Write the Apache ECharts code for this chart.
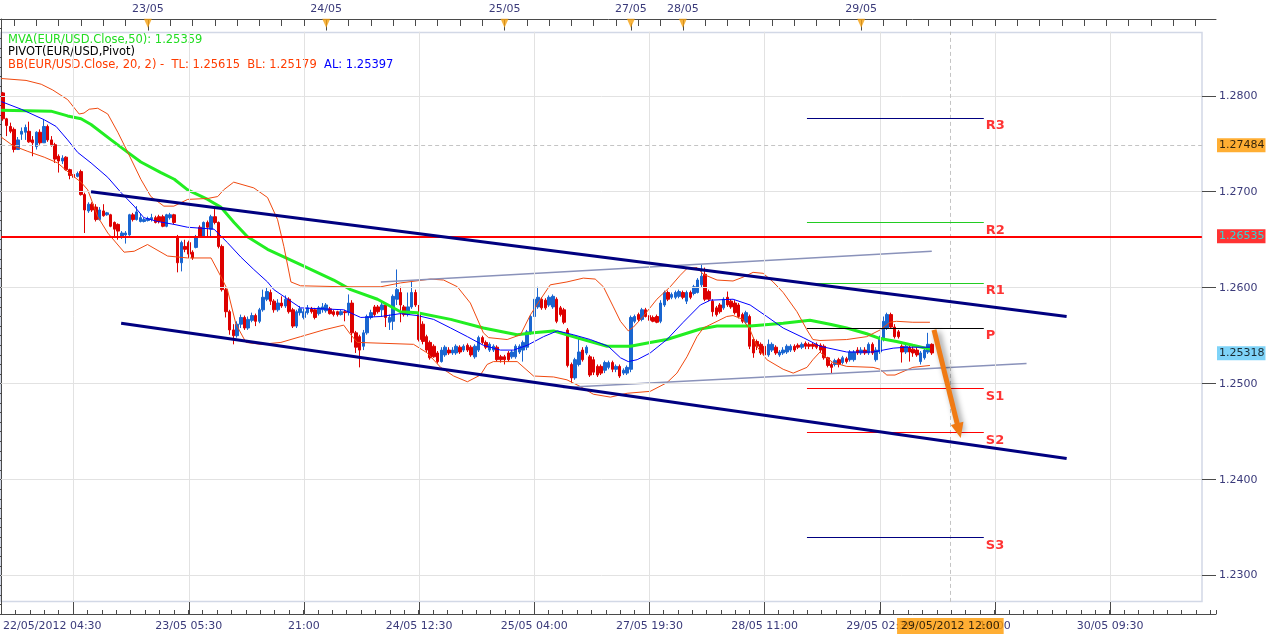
<!DOCTYPE html>
<html><head><meta charset="utf-8">
<script src="https://cdn.jsdelivr.net/npm/echarts@6/dist/echarts.min.js"></script>
<style>html,body{margin:0;padding:0;background:#fff}#c{width:1274px;height:639px}</style>
</head><body><div id="c"></div>
<script>
// ---------------- DATA ----------------
const N_SLOTS = 327; // 30-minute slots on the category axis (incl. empty future area)
const categories = Array.from({length: N_SLOTS}, (_, i) => String(i));

const openP = [1.2803,1.2776,1.2768,1.2765,1.2744,1.2760,1.2762,1.2763,1.2754,1.2747,1.2762,1.2751,1.2768,1.2754,1.2749,1.2737,1.2732,1.2736,1.2723,1.2718,
1.2716,1.2721,1.2697,1.2680,1.2687,1.2684,1.2671,1.2680,1.2676,1.2676,1.2668,1.2666,1.2653,1.2655,1.2655,1.2676,1.2671,1.2669,1.2669,1.2670,
1.2671,1.2673,1.2674,1.2674,1.2664,1.2673,1.2676,1.2653,1.2626,1.2643,1.2647,1.2637,1.2642,1.2663,1.2653,1.2668,1.2661,1.2674,1.2668,1.2643,
1.2598,1.2575,1.2556,1.2550,1.2562,1.2569,1.2558,1.2566,1.2571,1.2565,1.2577,1.2588,1.2595,1.2586,1.2577,1.2584,1.2581,1.2588,1.2577,1.2560,
1.2574,1.2569,1.2574,1.2578,1.2577,1.2573,1.2577,1.2576,1.2578,1.2575,1.2575,1.2572,1.2575,1.2574,1.2584,1.2553,1.2549,1.2539,1.2553,1.2569,
1.2580,1.2580,1.2577,1.2582,1.2564,1.2565,1.2588,1.2595,1.2580,1.2572,1.2580,1.2595,1.2572,1.2562,1.2549,1.2543,1.2539,1.2532,1.2523,1.2530,
1.2535,1.2532,1.2532,1.2538,1.2535,1.2540,1.2538,1.2528,1.2535,1.2548,1.2543,1.2535,1.2535,1.2538,1.2528,1.2528,1.2532,1.2528,1.2528,1.2533,
1.2535,1.2538,1.2553,1.2570,1.2580,1.2588,1.2587,1.2582,1.2580,1.2588,1.2579,1.2577,1.2556,1.2520,1.2506,1.2520,1.2535,1.2532,1.2528,1.2525,
1.2518,1.2518,1.2514,1.2517,1.2522,1.2515,1.2518,1.2511,1.2511,1.2515,1.2565,1.2572,1.2567,1.2577,1.2571,1.2569,1.2570,1.2565,1.2582,1.2595,
1.2590,1.2590,1.2591,1.2595,1.2586,1.2595,1.2594,1.2595,1.2603,1.2614,1.2596,1.2586,1.2579,1.2582,1.2579,1.2590,1.2586,1.2584,1.2582,1.2572,
1.2564,1.2570,1.2546,1.2544,1.2541,1.2539,1.2530,1.2535,1.2538,1.2530,1.2532,1.2533,1.2535,1.2539,1.2540,1.2538,1.2542,1.2541,1.2541,1.2541,
1.2540,1.2539,1.2527,1.2520,1.2520,1.2525,1.2522,1.2526,1.2525,1.2525,1.2535,1.2532,1.2535,1.2532,1.2541,1.2525,1.2533,1.2546,1.2558,1.2572,
1.2559,1.2554,1.2539,1.2533,1.2538,1.2536,1.2535,1.2523,1.2527,1.2533,1.2541];
const closeP = [1.2776,1.2769,1.2763,1.2744,1.2754,1.2763,1.2767,1.2752,1.2751,1.2762,1.2751,1.2768,1.2754,1.2749,1.2734,1.2732,1.2735,1.2723,1.2717,1.2715,
1.2719,1.2697,1.2681,1.2687,1.2681,1.2671,1.2681,1.2675,1.2678,1.2664,1.2661,1.2659,1.2657,1.2657,1.2676,1.2671,1.2679,1.2673,1.2671,1.2672,
1.2673,1.2668,1.2669,1.2664,1.2676,1.2676,1.2668,1.2626,1.2647,1.2640,1.2635,1.2631,1.2653,1.2653,1.2668,1.2663,1.2674,1.2668,1.2643,1.2598,
1.2575,1.2556,1.2550,1.2562,1.2569,1.2558,1.2567,1.2571,1.2565,1.2577,1.2590,1.2596,1.2586,1.2577,1.2584,1.2581,1.2588,1.2575,1.2560,1.2575,
1.2578,1.2575,1.2579,1.2575,1.2569,1.2579,1.2580,1.2582,1.2573,1.2572,1.2572,1.2575,1.2574,1.2584,1.2553,1.2538,1.2535,1.2553,1.2570,1.2574,
1.2572,1.2575,1.2582,1.2569,1.2569,1.2591,1.2598,1.2582,1.2572,1.2580,1.2595,1.2582,1.2546,1.2544,1.2535,1.2527,1.2528,1.2523,1.2535,1.2538,
1.2532,1.2535,1.2539,1.2533,1.2539,1.2535,1.2530,1.2539,1.2548,1.2543,1.2538,1.2541,1.2539,1.2525,1.2525,1.2525,1.2525,1.2533,1.2539,1.2539,
1.2543,1.2554,1.2570,1.2588,1.2590,1.2579,1.2579,1.2590,1.2591,1.2565,1.2572,1.2564,1.2519,1.2506,1.2525,1.2533,1.2525,1.2538,1.2509,1.2512,
1.2509,1.2511,1.2522,1.2522,1.2515,1.2518,1.2508,1.2514,1.2517,1.2569,1.2570,1.2567,1.2577,1.2570,1.2566,1.2565,1.2564,1.2584,1.2595,1.2588,
1.2593,1.2595,1.2596,1.2590,1.2595,1.2590,1.2601,1.2608,1.2612,1.2588,1.2588,1.2575,1.2572,1.2575,1.2588,1.2582,1.2580,1.2574,1.2570,1.2565,
1.2574,1.2539,1.2532,1.2539,1.2532,1.2530,1.2541,1.2541,1.2532,1.2533,1.2535,1.2539,1.2539,1.2535,1.2538,1.2541,1.2539,1.2539,1.2539,1.2538,
1.2535,1.2527,1.2519,1.2517,1.2524,1.2520,1.2527,1.2523,1.2533,1.2533,1.2532,1.2535,1.2532,1.2541,1.2532,1.2535,1.2548,1.2565,1.2572,1.2559,
1.2549,1.2549,1.2533,1.2539,1.2533,1.2532,1.2530,1.2532,1.2535,1.2541,1.2532];
const lowP = [1.2774,1.2758,1.2761,1.2741,1.2744,1.2754,1.2754,1.2751,1.2737,1.2744,1.2749,1.2751,1.2752,1.2747,1.2730,1.2720,1.2729,1.2722,1.2713,1.2713,
1.2715,1.2696,1.2657,1.2678,1.2679,1.2669,1.2670,1.2674,1.2675,1.2663,1.2652,1.2650,1.2651,1.2646,1.2654,1.2669,1.2670,1.2668,1.2668,1.2669,
1.2669,1.2667,1.2667,1.2663,1.2663,1.2671,1.2666,1.2616,1.2617,1.2637,1.2631,1.2629,1.2641,1.2652,1.2652,1.2652,1.2652,1.2666,1.2641,1.2596,
1.2569,1.2551,1.2541,1.2548,1.2558,1.2556,1.2556,1.2564,1.2560,1.2563,1.2575,1.2586,1.2582,1.2574,1.2575,1.2579,1.2579,1.2573,1.2558,1.2558,
1.2571,1.2567,1.2572,1.2573,1.2567,1.2571,1.2574,1.2574,1.2572,1.2570,1.2570,1.2571,1.2565,1.2571,1.2543,1.2532,1.2517,1.2535,1.2551,1.2567,
1.2570,1.2573,1.2570,1.2559,1.2556,1.2556,1.2582,1.2564,1.2570,1.2570,1.2578,1.2580,1.2544,1.2541,1.2533,1.2525,1.2527,1.2521,1.2522,1.2528,
1.2530,1.2530,1.2530,1.2531,1.2533,1.2533,1.2528,1.2526,1.2533,1.2541,1.2536,1.2533,1.2533,1.2523,1.2522,1.2520,1.2523,1.2526,1.2526,1.2531,
1.2523,1.2535,1.2551,1.2568,1.2578,1.2577,1.2577,1.2580,1.2578,1.2563,1.2570,1.2562,1.2517,1.2501,1.2504,1.2518,1.2523,1.2530,1.2507,1.2509,
1.2507,1.2509,1.2511,1.2515,1.2512,1.2512,1.2506,1.2509,1.2509,1.2512,1.2563,1.2565,1.2565,1.2569,1.2564,1.2564,1.2563,1.2563,1.2580,1.2586,
1.2588,1.2588,1.2589,1.2588,1.2583,1.2588,1.2592,1.2594,1.2600,1.2586,1.2586,1.2570,1.2570,1.2573,1.2577,1.2580,1.2578,1.2572,1.2568,1.2563,
1.2562,1.2536,1.2527,1.2535,1.2530,1.2528,1.2528,1.2533,1.2530,1.2528,1.2530,1.2531,1.2533,1.2533,1.2536,1.2536,1.2536,1.2536,1.2536,1.2536,
1.2533,1.2525,1.2517,1.2511,1.2518,1.2517,1.2520,1.2521,1.2523,1.2523,1.2530,1.2530,1.2530,1.2530,1.2530,1.2523,1.2531,1.2544,1.2556,1.2557,
1.2547,1.2547,1.2522,1.2531,1.2523,1.2528,1.2528,1.2520,1.2525,1.2531,1.2530];
const highP = [1.2804,1.2777,1.2772,1.2767,1.2757,1.2767,1.2770,1.2773,1.2758,1.2763,1.2765,1.2775,1.2770,1.2758,1.2751,1.2739,1.2738,1.2737,1.2724,1.2720,
1.2721,1.2723,1.2699,1.2689,1.2689,1.2687,1.2684,1.2687,1.2679,1.2677,1.2669,1.2667,1.2659,1.2659,1.2677,1.2678,1.2685,1.2677,1.2673,1.2674,
1.2677,1.2675,1.2676,1.2676,1.2677,1.2678,1.2677,1.2655,1.2649,1.2650,1.2649,1.2639,1.2655,1.2665,1.2669,1.2670,1.2676,1.2684,1.2669,1.2645,
1.2600,1.2577,1.2562,1.2565,1.2572,1.2571,1.2570,1.2574,1.2573,1.2579,1.2598,1.2600,1.2598,1.2588,1.2588,1.2591,1.2592,1.2590,1.2579,1.2577,
1.2581,1.2578,1.2582,1.2580,1.2579,1.2581,1.2584,1.2584,1.2580,1.2577,1.2576,1.2577,1.2577,1.2593,1.2587,1.2555,1.2551,1.2556,1.2572,1.2577,
1.2582,1.2582,1.2586,1.2584,1.2572,1.2593,1.2619,1.2601,1.2582,1.2595,1.2606,1.2598,1.2582,1.2565,1.2551,1.2545,1.2541,1.2534,1.2538,1.2540,
1.2538,1.2538,1.2541,1.2540,1.2541,1.2542,1.2540,1.2541,1.2550,1.2550,1.2545,1.2543,1.2541,1.2540,1.2530,1.2530,1.2534,1.2535,1.2541,1.2541,
1.2545,1.2556,1.2572,1.2590,1.2601,1.2590,1.2589,1.2592,1.2593,1.2590,1.2581,1.2579,1.2558,1.2522,1.2527,1.2548,1.2538,1.2540,1.2530,1.2528,
1.2520,1.2520,1.2524,1.2524,1.2524,1.2520,1.2520,1.2516,1.2519,1.2571,1.2572,1.2574,1.2579,1.2579,1.2573,1.2571,1.2572,1.2587,1.2597,1.2597,
1.2595,1.2597,1.2598,1.2597,1.2597,1.2597,1.2603,1.2610,1.2624,1.2621,1.2598,1.2588,1.2581,1.2584,1.2590,1.2596,1.2588,1.2587,1.2584,1.2574,
1.2576,1.2572,1.2548,1.2546,1.2543,1.2541,1.2546,1.2543,1.2540,1.2535,1.2538,1.2541,1.2541,1.2541,1.2542,1.2543,1.2544,1.2543,1.2543,1.2543,
1.2542,1.2541,1.2528,1.2522,1.2526,1.2527,1.2529,1.2528,1.2535,1.2535,1.2538,1.2538,1.2538,1.2543,1.2543,1.2538,1.2550,1.2570,1.2574,1.2574,
1.2562,1.2556,1.2541,1.2541,1.2540,1.2539,1.2538,1.2534,1.2538,1.2553,1.2542];

// Indicator lines: positions along the bar axis (bar units) and values
const ma50X = [0,13.4,17.9,21.5,24.2,29.6,34.1,37.6,43.0,46.6,50.2,55.6,59.1,62.7,66.3,71.7,80.6,89.5,94.1,101.3,107.5,112.0,121.0,129.8,138.9,143.3,148.7,152.3,156.7,163.1,169.4,174.7,179.2,188.2,192.7,201.6,210.5,217.7,223.1,227.6,233.0,236.6,241.0,245.4,250.0];
const ma50Y = [1.2785,1.2784,1.2779,1.2776,1.2770,1.2754,1.2741,1.2731,1.2720,1.2713,1.2702,1.2692,1.2684,1.2668,1.2653,1.2640,1.2624,1.2608,1.2598,1.2588,1.2575,1.2574,1.2567,1.2558,1.2551,1.2553,1.2555,1.2551,1.2546,1.2539,1.2539,1.2543,1.2546,1.2557,1.2560,1.2560,1.2563,1.2566,1.2562,1.2558,1.2552,1.2547,1.2544,1.2540,1.2536];

const bbMidX = [0,5.4,11.6,14.8,17.9,20.6,24.2,28.7,32.3,35.8,38.4,42.1,46.5,50.2,53.8,57.3,60.9,64.5,68.0,71.7,73.4,80.6,92.2,96.8,102.2,107.5,112.0,116.4,121.0,125.5,129.8,134.4,137.9,141.6,146.0,149.7,154.0,158.6,163.4,166.7,168.8,171.2,174.7,179.2,183.6,188.2,190.9,197.0,201.6,206.1,210.5,215.9,220.4,227.6,234.7,240.1,243.7,250.0];
const bbMidY = [1.2794,1.2786,1.2775,1.2768,1.2754,1.2741,1.2730,1.2715,1.2699,1.2685,1.2673,1.2669,1.2666,1.2663,1.2662,1.2661,1.2647,1.2632,1.2619,1.2606,1.2598,1.2579,1.2577,1.2569,1.2570,1.2573,1.2571,1.2567,1.2558,1.2549,1.2540,1.2535,1.2535,1.2540,1.2549,1.2555,1.2551,1.2546,1.2539,1.2527,1.2523,1.2525,1.2532,1.2546,1.2564,1.2582,1.2587,1.2588,1.2582,1.2570,1.2558,1.2548,1.2539,1.2533,1.2533,1.2537,1.2538,1.2538];

const bbUpX = [0,6.7,10.8,13.9,17.9,21.0,22.3,23.7,26.0,28.7,31.4,34.1,37.6,40.3,43.8,46.5,50.2,55.6,58.3,59.9,62.6,68.0,71.7,74.4,76.1,78.0,80.6,92.2,102.2,107.5,115.6,119.1,122.8,126.3,129.8,131.2,136.2,139.8,142.5,145.2,147.8,152.3,156.7,159.9,162.1,164.8,166.7,168.8,170.2,172.8,176.5,180.1,182.8,184.6,187.3,189.0,192.7,197.0,199.7,202.4,205.1,207.8,210.5,214.2,216.9,218.5,220.4,227.6,233.0,236.6,239.2,241.0,245.4,250.0];
const bbUpY = [1.2818,1.2816,1.2812,1.2806,1.2796,1.2781,1.2782,1.2786,1.2787,1.2781,1.2762,1.2741,1.2713,1.2695,1.2685,1.2685,1.2692,1.2693,1.2695,1.2702,1.2710,1.2704,1.2694,1.2671,1.2643,1.2606,1.2602,1.2601,1.2601,1.2605,1.2609,1.2608,1.2601,1.2584,1.2553,1.2548,1.2546,1.2551,1.2572,1.2588,1.2603,1.2606,1.2610,1.2609,1.2601,1.2580,1.2565,1.2555,1.2559,1.2570,1.2588,1.2601,1.2613,1.2620,1.2621,1.2614,1.2608,1.2607,1.2611,1.2616,1.2615,1.2606,1.2595,1.2575,1.2556,1.2546,1.2545,1.2546,1.2549,1.2556,1.2564,1.2565,1.2564,1.2564];

const bbLoX = [0,3.2,7.2,11.6,15.2,18.8,21.5,23.3,26.0,28.7,33.1,35.8,39.4,44.8,50.2,56.5,59.1,60.9,63.2,65.9,69.9,75.3,80.6,86.8,92.2,94.1,95.9,111.0,114.7,118.3,121.8,125.5,129.0,130.8,132.5,138.9,143.3,148.7,152.3,155.9,159.4,164.0,168.5,174.7,179.2,181.9,184.6,187.3,189.0,192.7,195.3,197.0,199.7,201.6,203.4,206.1,210.5,213.2,216.9,218.5,220.4,222.2,223.9,227.6,234.7,236.6,238.4,240.6,245.4,250.0];
const bbLoY = [1.2757,1.2748,1.2742,1.2736,1.2730,1.2718,1.2710,1.2702,1.2674,1.2657,1.2637,1.2638,1.2645,1.2633,1.2631,1.2631,1.2612,1.2598,1.2562,1.2543,1.2541,1.2543,1.2549,1.2556,1.2561,1.2551,1.2543,1.2541,1.2532,1.2517,1.2508,1.2502,1.2509,1.2520,1.2523,1.2523,1.2508,1.2507,1.2504,1.2497,1.2489,1.2486,1.2490,1.2492,1.2501,1.2511,1.2528,1.2549,1.2558,1.2565,1.2570,1.2571,1.2567,1.2556,1.2539,1.2525,1.2515,1.2511,1.2517,1.2525,1.2533,1.2527,1.2522,1.2518,1.2517,1.2515,1.2509,1.2509,1.2517,1.2519];

// Drawn trend lines (bar position, price)
const chanUpX = [24.2, 286.8],  chanUpY = [1.2700, 1.2570];
const chanLoX = [32.3, 286.8],  chanLoY = [1.2563, 1.2422];
const greyUpX = [102.2, 250.5], greyUpY = [1.2606, 1.2638];
const greyLoX = [151.2, 276.0], greyLoY = [1.2496, 1.2521];
const arrowX  = [251.1, 257.8], arrowY  = [1.2556, 1.2451];
const resistanceLevel = 1.26535;

// Pivot levels
const pivotNames = ['R3','R2','R1','P','S1','S2','S3'];
const pivotVals  = [1.2777,1.2668,1.2605,1.2558,1.2495,1.2449,1.2340];
const pivotColors= ['#000080','#22cc22','#22cc22','#000000','#ff0000','#ff0000','#000080'];
const pivotFrom = 216.9, pivotTo = 264.5;

// Axis ticks / labels
const yTickLabels = [1.23,1.24,1.25,1.26,1.27,1.28];
const bottomMajorIdx = [19,50,81,112,143,174,205,236,267,298];
const bottomLabelIdx = [0,50,81,112,143,174,205,236,267,298];
const bottomLabelText = ['22/05/2012 04:30','23/05 05:30','21:00','24/05 12:30','25/05 04:00','27/05 19:30','28/05 11:00','29/05 02:30','18:00','30/05 09:30'];
const topLabelIdx = [39,87,135,169,183,231];
const topLabelText = ['23/05','24/05','25/05','27/05','28/05','29/05'];

// Crosshair / price tags
const crossIdx = 255, crossPrice = 1.27484, crossTimeText = '29/05/2012 12:00';
const lastPrice = 1.25318;

// --------------- LAYOUT CONSTANTS ---------------
const FONT = '"DejaVu Sans", Verdana, sans-serif';
const AXC = '#4a4a4a', LBL = '#3a3a7a';
const tFrame = 323.2, yFrameTop = 1.28667, yFrameBot = 1.22726, yTri = 1.28755, yDayTickEnd = 1.28680;

const pairs = (xs, ys) => xs.map((x, k) => [x, ys[k]]);
const seg = (x1, y1, x2, y2, ls) => [{coord: [x1, y1], lineStyle: ls}, {coord: [x2, y2]}];

const gridMarks = [];
yTickLabels.forEach(v => {
  gridMarks.push(seg(0, v, tFrame, v, {color: '#e2e2e2', width: 1, type: 'solid'}));
  gridMarks.push(seg(tFrame, v, N_SLOTS, v, {color: AXC, width: 1, type: 'solid'}));
});
bottomMajorIdx.forEach(i => gridMarks.push(seg(i + 0.5, yFrameBot, i + 0.5, yFrameTop, {color: '#e2e2e2', width: 1, type: 'solid'})));
gridMarks.push(seg(crossIdx + 0.5, yFrameBot, crossIdx + 0.5, yFrameTop, {color: '#c4c4c4', width: 1, type: [4, 3]}));
gridMarks.push(seg(0, crossPrice, tFrame, crossPrice, {color: '#c4c4c4', width: 1, type: [4, 3]}));

const option = {
  animation: false,
  backgroundColor: '#ffffff',
  grid: {left: 0, right: 58, top: 19, bottom: 25, show: false},
  xAxis: [
    {type: 'category', data: categories, position: 'bottom', boundaryGap: true,
     axisLine: {show: true, lineStyle: {color: AXC}},
     axisTick: {show: true, inside: true, length: 12, alignWithLabel: true,
                interval: i => bottomMajorIdx.includes(i), lineStyle: {color: AXC}},
     axisLabel: {show: true, interval: i => bottomLabelIdx.includes(i),
                 formatter: (v, i) => bottomLabelText[bottomLabelIdx.indexOf(i)] || '',
                 color: LBL, fontFamily: FONT, fontSize: 11, margin: 7, alignMinLabel: 'left'},
     splitLine: {show: false}},
    {type: 'value', min: 0, max: N_SLOTS, interval: 3.875, position: 'bottom',
     axisLine: {show: false}, axisTick: {show: true, inside: true, length: 4, lineStyle: {color: AXC}},
     axisLabel: {show: false}, splitLine: {show: false}},
    {type: 'category', data: categories, position: 'top', boundaryGap: true,
     axisLine: {show: true, lineStyle: {color: AXC}},
     axisTick: {show: true, inside: true, length: 7, alignWithLabel: true,
                interval: i => (i - 3) % 6 === 0, lineStyle: {color: AXC}},
     axisLabel: {show: true, interval: i => topLabelIdx.includes(i),
                 formatter: (v, i) => topLabelText[topLabelIdx.indexOf(i)] || '',
                 color: LBL, fontFamily: FONT, fontSize: 11, margin: 4},
     splitLine: {show: false}}
  ],
  yAxis: [{type: 'value', position: 'right', min: 1.226, max: 1.288, interval: 0.001, scale: true,
    axisLine: {show: true, lineStyle: {color: AXC}},
    axisTick: {show: true, inside: true, length: 4, lineStyle: {color: AXC}},
    axisLabel: {formatter: v => (Math.abs(v * 100 - Math.round(v * 100)) < 1e-6) ? v.toFixed(4) : '',
                color: LBL, fontFamily: FONT, fontSize: 11, margin: 3},
    splitLine: {show: false}}],
  graphic: [
    {type: 'rect', silent: true, z: -10, shape: {x: 0.5, y: 32.5, width: 1201.5, height: 569},
     style: {fill: 'none', stroke: '#d2d8e6', lineWidth: 1.5}},
    {type: 'text', x: 8, y: 40, silent: true, style: {text: 'MVA(EUR/USD.Close,50): 1.25359', fill: '#22dd22', font: '11.5px ' + FONT, verticalAlign: 'middle'}},
    {type: 'text', x: 8, y: 52.5, silent: true, style: {text: 'PIVOT(EUR/USD,Pivot)', fill: '#000000', font: '11.5px ' + FONT, verticalAlign: 'middle'}},
    {type: 'text', x: 8, y: 65, silent: true, style: {text: '{a|BB(EUR/USD.Close, 20, 2) -  TL: 1.25615  BL: 1.25179  }{b|AL: 1.25397}',
      font: '11.5px ' + FONT, verticalAlign: 'middle',
      rich: {a: {fill: '#ff3c00', color: '#ff3c00', font: '11.5px ' + FONT}, b: {fill: '#0000ff', color: '#0000ff', font: '11.5px ' + FONT}}}}
  ],
  series: [
    {type: 'line', name: 'grid', xAxisIndex: 1, yAxisIndex: 0, data: [], z: 1, silent: true,
     markLine: {silent: true, symbol: 'none', label: {show: false}, animation: false, data: gridMarks}},
    {type: 'candlestick', name: 'EUR/USD', xAxisIndex: 0, yAxisIndex: 0, z: 3, barWidth: 3,
     data: openP.map((o, i) => [o, closeP[i], lowP[i], highP[i]]),
     itemStyle: {color: '#1a66d0', color0: '#dd0000', borderColor: '#1a66d0', borderColor0: '#dd0000', borderWidth: 1}},
    {type: 'line', name: 'MVA', xAxisIndex: 1, data: pairs(ma50X, ma50Y), showSymbol: false, symbol: 'none', z: 4,
     lineStyle: {color: '#22ee22', width: 3}},
    {type: 'line', name: 'BB TL', xAxisIndex: 1, data: pairs(bbUpX, bbUpY), showSymbol: false, symbol: 'none', z: 4,
     lineStyle: {color: '#f04a10', width: 1}},
    {type: 'line', name: 'BB BL', xAxisIndex: 1, data: pairs(bbLoX, bbLoY), showSymbol: false, symbol: 'none', z: 4,
     lineStyle: {color: '#f04a10', width: 1}},
    {type: 'line', name: 'BB AL', xAxisIndex: 1, data: pairs(bbMidX, bbMidY), showSymbol: false, symbol: 'none', z: 4,
     lineStyle: {color: '#0000ff', width: 1}},
    {type: 'line', name: 'grey up', xAxisIndex: 1, data: pairs(greyUpX, greyUpY), showSymbol: false, symbol: 'none', z: 4,
     lineStyle: {color: '#8a92ba', width: 1.5}},
    {type: 'line', name: 'grey lo', xAxisIndex: 1, data: pairs(greyLoX, greyLoY), showSymbol: false, symbol: 'none', z: 4,
     lineStyle: {color: '#8a92ba', width: 1.5}},
    {type: 'line', name: 'channel up', xAxisIndex: 1, data: pairs(chanUpX, chanUpY), showSymbol: false, symbol: 'none', z: 5,
     lineStyle: {color: '#000080', width: 3}},
    {type: 'line', name: 'channel lo', xAxisIndex: 1, data: pairs(chanLoX, chanLoY), showSymbol: false, symbol: 'none', z: 5,
     lineStyle: {color: '#000080', width: 3}},
    {type: 'line', name: 'levels', xAxisIndex: 1, data: [], z: 5, silent: true,
     markLine: {silent: true, symbol: 'none', label: {show: false}, animation: false,
       data: [seg(0, resistanceLevel, tFrame, resistanceLevel, {color: '#ff0000', width: 2, type: 'solid'})]
         .concat(pivotVals.map((v, k) => seg(pivotFrom, v, pivotTo, v, {color: pivotColors[k], width: 1, type: 'solid'})))}},
    {type: 'scatter', name: 'pivot labels', xAxisIndex: 1, symbolSize: 0, z: 6, silent: true,
     data: pivotVals.map((v, k) => ({name: pivotNames[k], value: [pivotTo, v]})),
     label: {show: true, position: 'right', distance: 2, offset: [0, 8], formatter: '{b}', color: '#ff0000', fontSize: 13, fontWeight: 'bold', fontFamily: FONT}},
    {type: 'line', name: 'arrow', xAxisIndex: 1, data: [], z: 7, silent: true,
     markLine: {silent: true, symbol: ['none', 'triangle'], symbolSize: [13, 15], label: {show: false}, animation: false,
       lineStyle: {color: '#f07a14', width: 5, type: 'solid', shadowColor: 'rgba(0,0,0,0.45)', shadowBlur: 6, shadowOffsetX: 3, shadowOffsetY: 2},
       data: [[{coord: [arrowX[0], arrowY[0]]}, {coord: [arrowX[1], arrowY[1]]}]]}},
    {type: 'scatter', name: 'price tags', xAxisIndex: 1, symbolSize: 0, z: 8, silent: true, clip: false,
     data: [
       {value: [N_SLOTS, crossPrice], label: {formatter: crossPrice.toFixed(5), backgroundColor: '#ff9a00', color: '#000000'}},
       {value: [N_SLOTS, resistanceLevel], label: {formatter: resistanceLevel.toFixed(5), backgroundColor: '#ff0000', color: '#00ffff'}},
       {value: [N_SLOTS, lastPrice], label: {formatter: lastPrice.toFixed(5), backgroundColor: '#5ec8f6', color: '#000000'}}
     ],
     label: {show: true, position: 'right', distance: 1, fontSize: 11, fontFamily: FONT, padding: [2, 1, 1, 2]}},
    {type: 'scatter', name: 'time tag', xAxisIndex: 1, symbolSize: 0, z: 8, silent: true, clip: false,
     data: [{value: [crossIdx + 0.5, 1.226]}],
     label: {show: true, position: 'bottom', distance: 4, formatter: crossTimeText, backgroundColor: '#ff9a00', color: '#000000',
             fontSize: 11, fontFamily: FONT, padding: [3, 4, 2, 4]}},
    {type: 'scatter', name: 'day markers', xAxisIndex: 2, symbol: 'triangle', symbolRotate: 180, symbolSize: [8, 9], z: 8,
     silent: true, clip: false, itemStyle: {color: '#f5a00f'},
     data: topLabelIdx.map(i => [i, yTri]),
     markLine: {silent: true, symbol: 'none', label: {show: false}, animation: false,
       data: topLabelIdx.map(i => [{coord: [i, yTri], lineStyle: {color: AXC, width: 1, type: 'solid'}}, {coord: [i, yDayTickEnd]}])}}
  ]
};
const chart = echarts.init(document.getElementById('c'), null, {renderer: 'canvas', width: 1274, height: 639});
chart.setOption(option);
</script>
</body></html>
